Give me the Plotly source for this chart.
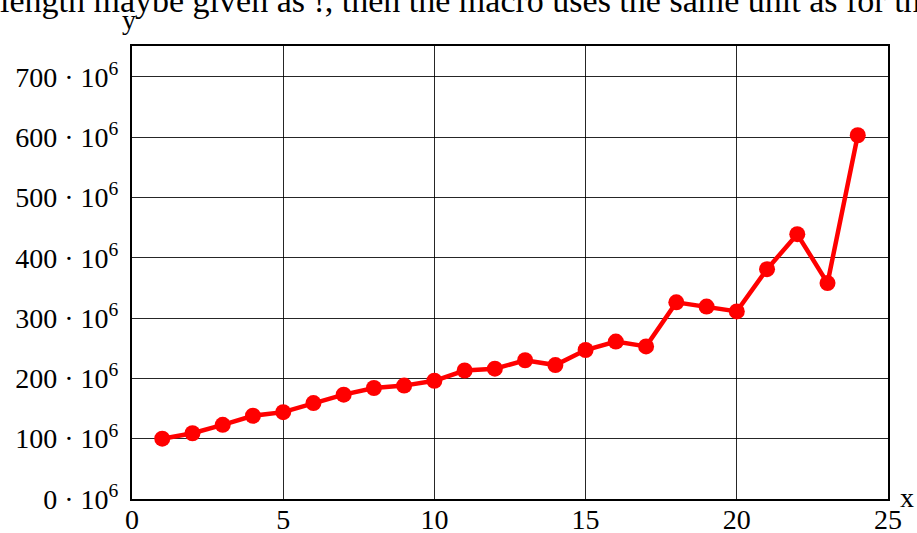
import plotly.graph_objects as go

x_vals = list(range(1, 25))
y_vals = [100, 109, 123, 138, 144, 159, 173, 184, 188, 196, 213, 216,
          230, 222, 247, 261, 253, 326, 319, 311, 381, 439, 358, 603]
y_vals = [v * 1e6 for v in y_vals]

y_ticks = [i * 100e6 for i in range(8)]
y_tick_text = [f"{i * 100} · 10<sup>6</sup>" for i in range(8)]
x_ticks = [0, 5, 10, 15, 20, 25]

top_text = "length maybe given as !, then the macro uses the same unit as for th"

FONT = "Liberation Serif"

fig = go.Figure()
fig.add_trace(go.Scatter(
    x=x_vals, y=y_vals, mode="lines+markers",
    line=dict(color="#ff0000", width=4.5),
    marker=dict(color="#ff0000", size=16),
    showlegend=False,
))

# plot area in pixels: left 132, right 888, top 46, bottom 499
W, H = 917, 533
L, R, T, B = 132, 29, 46, 34
pw, ph = W - L - R, H - T - B


def px_x(p):
    return (p - L) / pw


def px_y(p):
    return (H - B - p) / ph


grid = "rgba(0,0,0,0.85)"

fig.update_layout(
    width=W, height=H,
    margin=dict(l=L, r=R, t=T, b=B, autoexpand=False),
    plot_bgcolor="white", paper_bgcolor="white",
    font=dict(family=FONT, size=28, color="black"),
    xaxis=dict(
        range=[0, 25], tickvals=x_ticks, showgrid=True,
        gridcolor=grid, gridwidth=1, automargin=False,
        showline=True, linecolor="black", linewidth=2, mirror=True,
        zeroline=False, ticks="", tickfont=dict(size=28),
        ticklabelstandoff=-6,
    ),
    # short tick stubs poking above the top frame
    xaxis2=dict(
        overlaying="x", matches="x", side="top", anchor="y",
        tickvals=x_ticks, showticklabels=False, showgrid=False,
        ticks="outside", ticklen=5, tickcolor=grid, tickwidth=1,
        showline=False, zeroline=False, automargin=False,
    ),
    yaxis=dict(
        range=[0, 751e6], tickvals=y_ticks, ticktext=y_tick_text,
        showgrid=True, gridcolor=grid, gridwidth=1, automargin=False,
        showline=True, linecolor="black", linewidth=2, mirror=True,
        zeroline=False, ticks="", tickfont=dict(size=28),
        ticklabelstandoff=6,
    ),
    annotations=[
        dict(text=top_text, xref="paper", yref="paper",
             x=px_x(-2), y=px_y(1), xanchor="left", yanchor="middle",
             showarrow=False, font=dict(size=34)),
        dict(text="y", xref="paper", yref="paper",
             x=px_x(129), y=px_y(20), xanchor="center", yanchor="middle",
             showarrow=False, font=dict(size=28)),
        dict(text="x", xref="paper", yref="paper",
             x=px_x(907), y=px_y(497), xanchor="center", yanchor="middle",
             showarrow=False, font=dict(size=28)),
    ],
)

fig.write_html("out.html", config={"displayModeBar": False},
               post_script="document.body.style.margin='0';")
